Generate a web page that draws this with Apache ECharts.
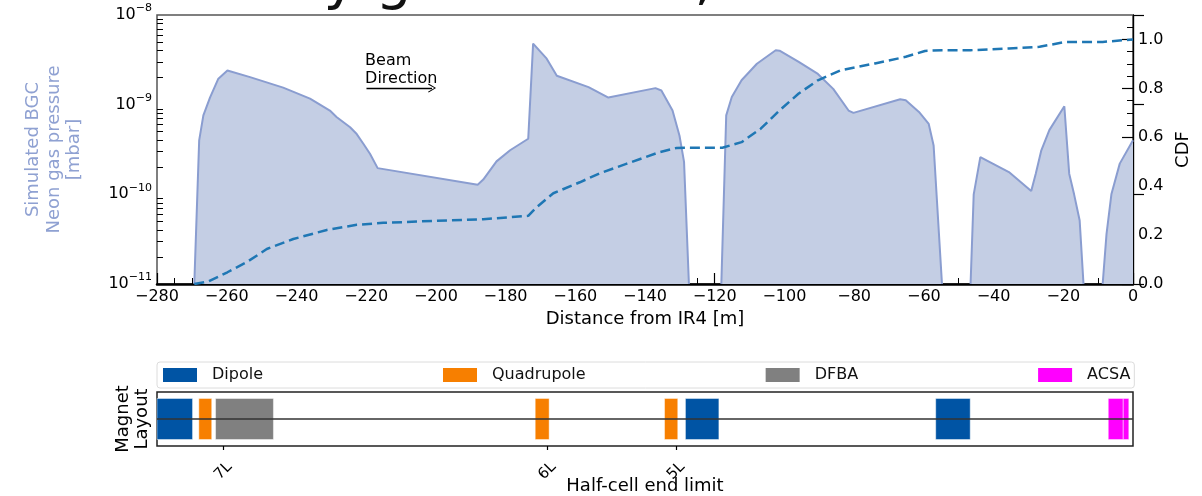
<!DOCTYPE html>
<html>
<head>
<meta charset="utf-8">
<script src="https://cdn.jsdelivr.net/npm/echarts@6/dist/echarts.min.js"></script>
<style>
  html, body { margin: 0; padding: 0; background: #fff; }
  #chart { width: 1202px; height: 496px; }
</style>
</head>
<body>
<div id="chart"></div>
<script>
// Simulated neon gas pressure along the half-cells left of IR4 (m);
// null values separate the pumped sections
const pressureDistance = [
  -269.3, -267.9, -266.7, -264.8, -262.4, -259.8, -253.3, -243.8, -236.1, -230.4,
  -228.5, -224.6, -222.7, -220.8, -218.9, -216.7, -188.0, -186.4, -182.6, -178.7,
  -173.5, -172.1, -168.2, -165.3, -156.2, -150.5, -137.0, -135.3, -132.1, -130.1,
  -128.8, -127.4,
  -123.0,
  -118.1, -116.7, -115.1, -112.3, -107.9, -102.5, -101.4, -95.9, -90.4, -86.0,
  -81.6, -80.2, -66.8, -65.2, -61.4, -58.6, -57.2, -54.8,
  -51.0,
  -46.6, -45.7, -43.8, -35.6, -29.2, -27.9, -26.3, -24.0, -19.7, -18.3, -16.9, -15.3, -14.2,
  -11.0,
  -8.7, -7.6, -6.2, -3.8, 0
];
// pressure in mbar
const pressureValue = [
  1e-11, 4.0e-10, 7.6e-10, 1.2e-9, 1.95e-9, 2.4e-9, 2.03e-9, 1.55e-9, 1.17e-9, 8.6e-10,
  7.3e-10, 5.6e-10, 4.7e-10, 3.67e-10, 2.84e-10, 1.96e-10, 1.28e-10, 1.46e-10, 2.33e-10, 3.1e-10,
  4.17e-10, 4.8e-9, 3.26e-9, 2.1e-9, 1.57e-9, 1.2e-9, 1.53e-9, 1.44e-9, 8.6e-10, 4.5e-10,
  2.3e-10, 1e-11,
  null,
  1e-11, 7.6e-10, 1.22e-9, 1.87e-9, 2.86e-9, 4.04e-9, 4.0e-9, 3.0e-9, 2.2e-9, 1.5e-9,
  8.6e-10, 8.1e-10, 1.15e-9, 1.12e-9, 8.3e-10, 6.1e-10, 3.5e-10, 1e-11,
  null,
  1e-11, 1.0e-10, 2.6e-10, 1.77e-10, 1.09e-10, 1.7e-10, 3.1e-10, 5.2e-10, 9.6e-10, 1.7e-10, 1.0e-10, 5.1e-11, 1e-11,
  null,
  1e-11, 3.6e-11, 1.0e-10, 2.2e-10, 4.0e-10
];

// Cumulative distribution of the pressure
const cdfDistance = [
  -269.3, -265.3, -259.8, -254.3, -248.5, -240.9, -231.3, -222.7, -215.1, -200.7,
  -186.4, -173.5, -171.1, -166.3, -158.7, -152.9, -145.2, -135.9, -131.0, -127.4,
  -117.8, -112.3, -106.8, -101.4, -95.9, -90.4, -83.8, -74.0, -65.2, -59.7,
  -54.8, -46.6, -35.6, -26.8, -19.7, -14.2, -8.7, 0
];
const cdfValue = [
  0, 0.01, 0.048, 0.089, 0.143, 0.184, 0.221, 0.242, 0.25, 0.258,
  0.265, 0.279, 0.314, 0.371, 0.416, 0.453, 0.492, 0.539, 0.556, 0.557,
  0.557, 0.58, 0.635, 0.71, 0.779, 0.833, 0.874, 0.902, 0.929, 0.953,
  0.956, 0.956, 0.963, 0.97, 0.989, 0.99, 0.99, 1.0
];

// Magnet layout: [start, end] in m
const dipoles = [[-280, -269.8], [-128.4, -118.8], [-56.6, -46.7]];
const quadrupoles = [[-268.0, -264.3], [-171.5, -167.5], [-134.4, -130.6]];
const dfba = [[-263.2, -246.6]];
const acsa = [[-7.1, -2.8], [-2.8, -1.2]];

// Half-cell end limits
const halfCellPos = [-261.0, -168.0, -131.1];
const halfCellNames = ['7L', '6L', '5L'];

// Axis ticks
const xTickStep = 20;
const pressureDecades = [1e-11, 1e-10, 1e-9, 1e-8];
const cdfMinorTicks = [0.05, 0.1, 0.15, 0.25, 0.3, 0.35, 0.45, 0.5, 0.55, 0.65, 0.7, 0.75, 0.85, 0.9, 0.95, 1.05];

const titleText = 'Emitted by gas curtain, IR4 left';

const FONT = 'DejaVu Sans';
const C_DIPOLE = '#0054a4';
const C_QUAD = '#f77f00';
const C_DFBA = '#808080';
const C_ACSA = '#ff00ff';

const pressureMinor = [];
for (let d = 0; d < pressureDecades.length - 1; d++) {
  for (let k = 2; k <= 9; k++) pressureMinor.push(k * pressureDecades[d]);
}

const pressureData = pressureDistance.map((x, i) => [x, pressureValue[i] === null ? '-' : pressureValue[i]]);
const cdfData = cdfDistance.map((x, i) => [x, cdfValue[i]]);

const minus = v => (v < 0 ? '\u2212' + Math.abs(v) : String(v));

function renderMagnet(params, api) {
  const p0 = api.coord([api.value(0), 0.76]);
  const p1 = api.coord([api.value(1), -0.76]);
  return {
    type: 'rect',
    shape: { x: p0[0], y: p0[1], width: p1[0] - p0[0], height: p1[1] - p0[1] },
    style: { fill: api.visual('color'), stroke: 'rgba(255,255,255,0.45)', lineWidth: 1 }
  };
}

function magnetSeries(name, data, color) {
  return {
    name: name,
    type: 'custom',
    xAxisIndex: 1,
    yAxisIndex: 3,
    renderItem: renderMagnet,
    itemStyle: { color: color },
    encode: { x: [0, 1] },
    data: data,
    silent: true
  };
}

const chart = echarts.init(document.getElementById('chart'), null, { renderer: 'canvas' });

const option = {
  animation: false,
  backgroundColor: '#fff',
  textStyle: { fontFamily: FONT },
  title: {
    text: titleText,
    left: 41,
    top: -50,
    textStyle: { fontFamily: FONT, fontSize: 57, fontWeight: 'normal', color: '#111' }
  },
  legend: {
    left: 157,
    top: 362,
    orient: 'horizontal',
    icon: 'rect',
    itemWidth: 34,
    itemHeight: 14,
    itemGap: 180,
    padding: [5, 4, 5, 6],
    borderColor: '#dcdcdc',
    borderWidth: 1,
    borderRadius: 3,
    textStyle: { fontFamily: FONT, fontSize: 16, color: '#111', padding: [0, 0, 0, 10] },
    data: ['Dipole', 'Quadrupole', 'DFBA', 'ACSA']
  },
  grid: [
    { left: 157, right: 69, top: 15, height: 269, show: true, borderColor: '#555', borderWidth: 1.5, outerBoundsMode: 'none' },
    { left: 157, right: 69, top: 392, height: 54, show: true, borderColor: '#222', borderWidth: 1.5, outerBoundsMode: 'none' }
  ],
  xAxis: [
    {
      gridIndex: 0,
      type: 'value',
      min: -280,
      max: 0,
      interval: xTickStep,
      axisLine: { show: true, onZero: false, lineStyle: { color: '#000', width: 2.5 } },
      axisTick: { show: true, inside: true, length: 11, lineStyle: { color: '#000', width: 1.2 } },
      minorTick: { show: true, splitNumber: 4, length: 6, lineStyle: { color: '#000', width: 1 } },
      splitLine: { show: false },
      minorSplitLine: { show: false },
      axisLabel: { fontFamily: FONT, fontSize: 16, color: '#000', margin: 5, formatter: minus },
      name: 'Distance from IR4 [m]',
      nameLocation: 'middle',
      nameGap: 24,
      nameTextStyle: { fontFamily: FONT, fontSize: 18, color: '#000' }
    },
    {
      gridIndex: 1,
      type: 'value',
      min: -280,
      max: 0,
      axisLine: { show: false, onZero: false },
      axisTick: { show: true, customValues: halfCellPos, length: 4, lineStyle: { color: '#000', width: 1.2 } },
      splitLine: { show: false },
      axisLabel: {
        customValues: halfCellPos,
        rotate: 45,
        align: 'center',
        verticalAlign: 'middle',
        margin: 25,
        fontFamily: FONT,
        fontSize: 15,
        color: '#000',
        formatter: v => {
          const i = halfCellPos.findIndex(p => Math.abs(p - v) < 1e-6);
          return i >= 0 ? halfCellNames[i] : '';
        }
      },
      name: 'Half-cell end limit',
      nameLocation: 'middle',
      nameGap: 31,
      nameMoveOverlap: false,
      nameTextStyle: { fontFamily: FONT, fontSize: 18, color: '#000' }
    }
  ],
  yAxis: [
    {
      gridIndex: 0,
      type: 'log',
      logBase: 10,
      min: 1e-11,
      max: 1e-8,
      position: 'left',
      axisLine: { show: true, lineStyle: { color: '#000', width: 1.2 } },
      axisTick: { show: true, inside: true, length: 11, lineStyle: { color: '#000', width: 1.2 } },
      splitLine: { show: false },
      axisLabel: {
        margin: 5,
        formatter: v => '{b|10}{s|\u2212' + Math.abs(Math.round(Math.log10(v))) + '}',
        rich: {
          b: { fontFamily: FONT, fontSize: 16, color: '#000', lineHeight: 24 },
          s: { fontFamily: FONT, fontSize: 11, color: '#000', verticalAlign: 'top' }
        }
      },
      name: 'Simulated BGC\nNeon gas pressure\n[mbar]',
      nameLocation: 'middle',
      nameRotate: 90,
      nameGap: 72,
      nameTextStyle: { fontFamily: FONT, fontSize: 18, color: '#8fa1d2', lineHeight: 20.5, align: 'center' }
    },
    {
      gridIndex: 0,
      type: 'log',
      logBase: 10,
      min: 1e-11,
      max: 1e-8,
      position: 'left',
      axisLine: { show: false },
      axisLabel: { show: false },
      splitLine: { show: false },
      axisTick: { show: true, inside: true, length: 6, customValues: pressureMinor, lineStyle: { color: '#000', width: 1 } }
    },
    {
      gridIndex: 0,
      type: 'value',
      min: 0,
      max: 1.1,
      interval: 0.2,
      position: 'right',
      axisLine: { show: true, lineStyle: { color: '#000', width: 1.2 } },
      axisTick: { show: true, inside: true, length: 11, lineStyle: { color: '#000', width: 1.2 } },
      splitLine: { show: false },
      axisLabel: { fontFamily: FONT, fontSize: 16, color: '#000', margin: 5, showMaxLabel: false, formatter: v => v.toFixed(1) },
      name: 'CDF',
      nameLocation: 'middle',
      nameRotate: 90,
      nameGap: 33,
      nameTextStyle: { fontFamily: FONT, fontSize: 18, color: '#000' }
    },
    {
      gridIndex: 1,
      type: 'value',
      min: -1,
      max: 1,
      axisLine: { show: false },
      axisTick: { show: false },
      axisLabel: { show: false },
      splitLine: { show: false },
      name: 'Magnet\nLayout',
      nameLocation: 'middle',
      nameRotate: 90,
      nameGap: 5,
      nameTextStyle: { fontFamily: FONT, fontSize: 18, color: '#000', lineHeight: 19, align: 'center' }
    },
    {
      gridIndex: 0,
      type: 'value',
      min: 0,
      max: 1.1,
      position: 'right',
      axisLine: { show: false },
      axisLabel: { show: false },
      splitLine: { show: false },
      axisTick: { show: true, inside: true, length: 6, customValues: cdfMinorTicks, lineStyle: { color: '#000', width: 1 } }
    }
  ],
  series: [
    {
      name: 'Pressure',
      type: 'line',
      xAxisIndex: 0,
      yAxisIndex: 0,
      data: pressureData,
      connectNulls: false,
      showSymbol: false,
      symbol: 'none',
      lineStyle: { color: '#8a9dd0', width: 2 },
      itemStyle: { color: '#8a9dd0' },
      areaStyle: { color: '#c4cee4', opacity: 1, origin: 'start' },
      z: 2,
      markPoint: {
        symbol: 'circle',
        symbolSize: 0,
        silent: true,
        data: [{
          coord: [-220.3, 3.94e-9],
          label: {
            show: true,
            position: [0, 0],
            align: 'left',
            verticalAlign: 'top',
            formatter: 'Beam\nDirection',
            fontFamily: FONT,
            fontSize: 16,
            lineHeight: 18.7,
            color: '#000'
          }
        }]
      },
      markLine: {
        silent: true,
        symbol: ['none', 'path://M0,10 L5,0 L10,10 L9,10.9 L5,2.2 L1,10.9 Z'],
        symbolSize: [9, 8],
        lineStyle: { color: '#000', width: 1.3, type: 'solid' },
        label: { show: false },
        data: [[{ coord: [-219.9, 1.53e-9] }, { coord: [-201.1, 1.53e-9] }]]
      }
    },
    {
      name: 'CDF',
      type: 'line',
      xAxisIndex: 0,
      yAxisIndex: 2,
      data: cdfData,
      showSymbol: false,
      symbol: 'none',
      lineStyle: { color: '#1f77b4', width: 2.5, type: [10, 5] },
      itemStyle: { color: '#1f77b4' },
      z: 3
    },
    magnetSeries('Dipole', dipoles, C_DIPOLE),
    magnetSeries('Quadrupole', quadrupoles, C_QUAD),
    magnetSeries('DFBA', dfba, C_DFBA),
    Object.assign(magnetSeries('ACSA', acsa, C_ACSA), {
      markLine: {
        silent: true,
        symbol: ['none', 'none'],
        lineStyle: { color: '#333', width: 1.5, type: 'solid' },
        label: { show: false },
        data: [{ yAxis: 0 }]
      }
    })
  ]
};

chart.setOption(option);
</script>
</body>
</html>
